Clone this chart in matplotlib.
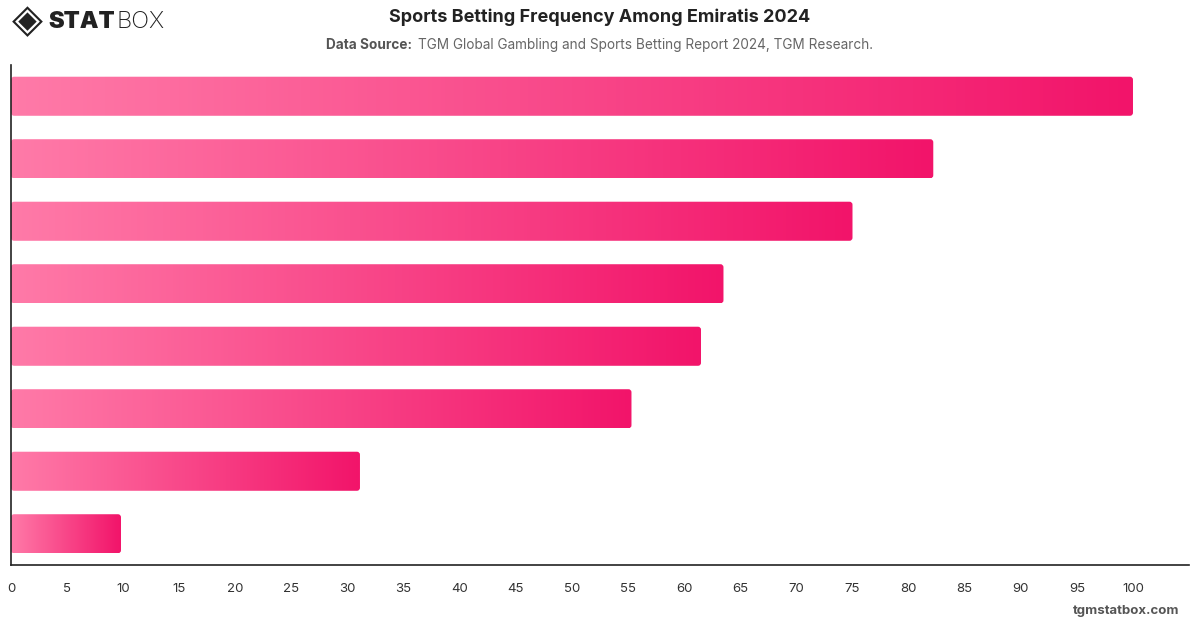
import numpy as np
import matplotlib
matplotlib.use("Agg")
import matplotlib.pyplot as plt
from matplotlib.colors import LinearSegmentedColormap
from matplotlib.patches import FancyBboxPatch

plt.rcParams['font.family'] = ['Inter', 'DejaVu Sans']

# bar values, top to bottom (no category labels shown on the chart)
values = [100, 82.2, 75.0, 63.5, 61.5, 55.3, 31.1, 9.8]
xticks = list(range(0, 101, 5))

fig = plt.figure(figsize=(12, 6.28), dpi=100)
ax = fig.add_axes([0.0092, 0.1003, 0.9817, 0.7962])

cmap = LinearSegmentedColormap.from_list('pink', ['#FF7AA8', '#F2146A'])
grad = np.linspace(0, 1, 256).reshape(1, -1)

bar_h = 0.625
for i, v in enumerate(values):
    y0 = i - bar_h / 2
    im = ax.imshow(grad, cmap=cmap, aspect='auto', interpolation='bicubic',
                   extent=[0, v, y0 + bar_h, y0], zorder=2)
    clip = FancyBboxPatch((0, y0), v, bar_h,
                          boxstyle='round,pad=0,rounding_size=0.27',
                          mutation_aspect=0.18, transform=ax.transData,
                          facecolor='none', edgecolor='none')
    ax.add_patch(clip)
    im.set_clip_path(clip)

ax.set_xlim(0, 105)
ax.set_ylim(len(values) - 0.5, -0.5)
ax.set_xticks(xticks)
ax.set_yticks([])
ax.tick_params(axis='x', length=0, pad=13, labelsize=9.5, colors='#333333')
for s in ['top', 'right']:
    ax.spines[s].set_visible(False)
for s in ['left', 'bottom']:
    ax.spines[s].set_color('#222222')
    ax.spines[s].set_linewidth(1.2)

# title + subtitle
fig.text(0.5, 0.972, 'Sports Betting Frequency Among Emiratis 2024', ha='center', va='center',
         fontsize=13, fontweight='bold', color='#222222')
fig.text(0.2715, 0.929, 'Data Source:', ha='left', va='center', fontsize=9.8,
         fontweight='bold', color='#555555')
fig.text(0.348, 0.929, 'TGM Global Gambling and Sports Betting Report 2024, TGM Research.',
         ha='left', va='center', fontsize=9.8, color='#666666')

# logo
fig.text(0.010, 0.966, '\u25C8', ha='left', va='center', fontsize=29, color='#222222',
         family=['DejaVu Sans'])
stat = fig.text(0.040, 0.965, 'STAT', ha='left', va='center', fontsize=17, fontweight='black',
                color='#222222')
ax.annotate('BOX', xy=(1, 0.5), xycoords=stat, xytext=(1, 0), textcoords='offset points',
            ha='left', va='center', fontsize=17, fontweight='light', color='#222222',
            annotation_clip=False)

# footer
fig.text(0.983, 0.017, 'tgmstatbox.com', ha='right', va='bottom', fontsize=9.5,
         fontweight='bold', color='#555555')

fig.savefig('out.png', dpi=100)
